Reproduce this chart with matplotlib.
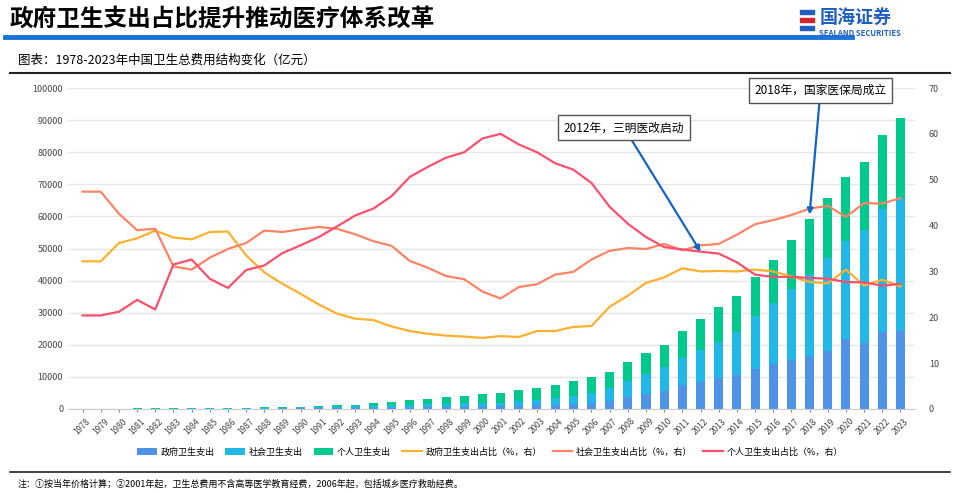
import matplotlib
matplotlib.use("Agg")
import matplotlib.pyplot as plt
import numpy as np

plt.rcParams['font.family'] = ['Noto Sans CJK SC', 'DejaVu Sans']

years = list(range(1978, 2024))
gov = [35,41,52,60,69,78,89,108,122,127,145,168,187,204,229,272,342,387,462,524,590,641,710,801,909,1117,1294,1553,1779,2582,3594,4816,5732,7464,8432,9546,10580,12475,13910,15206,16399,18017,21942,20676,24041,24148]
social = [52,60,61,62,70,64,74,92,110,137,190,237,293,354,431,525,645,767,876,984,1067,1145,1172,1211,1539,1789,2225,2586,3211,3894,5066,6154,7197,8416,10031,11394,13438,16507,19097,22259,25811,29151,30274,34964,38346,41677]
personal = [23,25,30,38,38,65,79,79,84,115,153,210,267,335,437,581,774,1001,1371,1689,2022,2262,2705,3014,3342,3678,4071,4521,4854,5098,5875,6572,7051,8466,9656,10729,11295,11993,13338,15134,16912,18673,19959,21205,22941,24751]
gov_pct = [32.2,32.2,36.2,37.2,38.9,37.4,37.0,38.6,38.7,33.5,29.8,27.3,25.1,22.8,20.8,19.7,19.4,18.0,17.0,16.4,16.0,15.8,15.5,15.9,15.7,17.0,17.0,17.9,18.1,22.3,24.7,27.5,28.7,30.7,30.0,30.1,30.0,30.4,30.0,28.9,27.7,27.4,30.4,26.9,28.2,26.7]
social_pct = [47.4,47.4,42.6,39.0,39.3,31.1,30.4,33.0,34.9,36.2,38.9,38.6,39.2,39.7,39.3,38.1,36.6,35.6,32.3,30.8,29.0,28.3,25.6,24.1,26.6,27.2,29.3,29.9,32.6,34.5,35.1,34.9,36.0,34.6,35.7,36.0,38.0,40.3,41.2,42.3,43.7,44.3,41.9,44.9,44.8,46.0]
personal_pct = [20.4,20.4,21.2,23.8,21.7,31.5,32.6,28.4,26.4,30.3,31.3,34.0,35.7,37.5,39.8,42.2,43.7,46.4,50.6,52.8,54.8,56.0,59.0,60.0,57.7,56.0,53.6,52.2,49.3,44.1,40.4,37.5,35.3,34.8,34.3,33.9,32.0,29.3,28.8,28.8,28.6,28.4,27.7,27.6,26.9,27.3]

c_gov, c_soc, c_per = '#4f93e6', '#21b7e6', '#00c98d'
c_gp, c_sp, c_pp = '#fdb02e', '#fb8466', '#fb4f6e'

fig = plt.figure(figsize=(9.6, 4.93), dpi=100)
W, H = 960, 493
def fx(px): return px / W
def fy(py): return 1 - py / H

# header
fig.text(fx(10), fy(19), '政府卫生支出占比提升推动医疗体系改革', fontsize=17, fontweight='bold', va='center', ha='left')
fig.add_artist(plt.Line2D([fx(5), fx(852)], [fy(37), fy(37)], color='#1a73d9', lw=3.5))
fig.text(fx(820), fy(17), '国海证券', fontsize=13, fontweight='bold', color='#1f5fbf', va='center')
fig.text(fx(819), fy(33), 'SEALAND SECURITIES', fontsize=5.5, fontweight='bold', color='#1f5fbf', va='center')
for i, c in enumerate(['#1f5fbf', '#d8232a', '#1f5fbf']):
    fig.add_artist(plt.Rectangle((fx(800), fy(14 + i * 8)), fx(14), 4 / H, color=c, transform=fig.transFigure))
fig.text(fx(18), fy(60), '图表：1978-2023年中国卫生总费用结构变化（亿元）', fontsize=9, va='center')
fig.add_artist(plt.Line2D([fx(10), fx(950)], [fy(73), fy(73)], color='#222222', lw=1.5))
fig.add_artist(plt.Line2D([fx(10), fx(950)], [fy(472), fy(472)], color='#222222', lw=1.2))
fig.text(fx(18), fy(484), '注：①按当年价格计算；②2001年起，卫生总费用不含高等医学教育经费，2006年起，包括城乡医疗救助经费。', fontsize=6.5, va='center')

ax = fig.add_axes([fx(68), fy(409), fx(915 - 68), (409 - 88) / H])
x = np.arange(len(years))
ax.bar(x, gov, 0.5, color=c_gov, label='政府卫生支出')
ax.bar(x, social, 0.5, bottom=gov, color=c_soc, label='社会卫生支出')
ax.bar(x, personal, 0.5, bottom=np.array(gov) + np.array(social), color=c_per, label='个人卫生支出')
ax.set_ylim(0, 100000)
ax.set_yticks(range(0, 100001, 10000))
ax.set_xlim(-0.8, len(years) - 0.2)
ax.set_xticks(x)
ax.set_xticklabels([str(y) for y in years], rotation=45, fontsize=6, color='#444444')
ax.tick_params(axis='y', labelsize=6.5, colors='#444444', length=0)
ax.tick_params(axis='x', length=2, colors='#888888', labelcolor='#444444')
ax.yaxis.grid(True, color='#e6e6e6', lw=1)
ax.set_axisbelow(True)
for s in ax.spines.values():
    s.set_visible(False)
ax.spines['bottom'].set_visible(True)
ax.spines['bottom'].set_color('#cccccc')

ax2 = ax.twinx()
ax2.plot(x, gov_pct, color=c_gp, lw=1.6, label='政府卫生支出占比（%，右）')
ax2.plot(x, social_pct, color=c_sp, lw=1.6, label='社会卫生支出占比（%，右）')
ax2.plot(x, personal_pct, color=c_pp, lw=1.6, label='个人卫生支出占比（%，右）')
ax2.set_ylim(0, 70)
ax2.set_yticks(range(0, 71, 10))
ax2.tick_params(axis='y', labelsize=6.5, colors='#444444', length=0, pad=10)
for s in ax2.spines.values():
    s.set_visible(False)

i12 = years.index(2012)
i18 = years.index(2018)
ax2.annotate('2012年，三明医改启动', xy=(x[i12], personal_pct[i12]), xytext=(x[i12] - 4.2, 61.3),
             fontsize=8.5, ha='center', va='center',
             bbox=dict(boxstyle='square,pad=0.5', fc='white', ec='#555555', lw=1),
             arrowprops=dict(arrowstyle='-|>', color='#1565c0', lw=1.6, shrinkA=0, shrinkB=0))
ax2.annotate('2018年，国家医保局成立', xy=(x[i18], social_pct[i18] - 1.3), xytext=(x[i18] + 0.6, 69.5),
             fontsize=8.5, ha='center', va='center',
             bbox=dict(boxstyle='square,pad=0.5', fc='white', ec='#555555', lw=1),
             arrowprops=dict(arrowstyle='-|>', color='#1565c0', lw=1.6, shrinkA=0, shrinkB=0),
             annotation_clip=False)

h1, l1 = ax.get_legend_handles_labels()
h2, l2 = ax2.get_legend_handles_labels()
fig.legend(h1 + h2, l1 + l2, loc='center', bbox_to_anchor=(fx(490), fy(452)), ncol=6, fontsize=6.5,
           frameon=False, handlelength=2.2, columnspacing=1.2, handletextpad=0.4)

fig.savefig('out.png', dpi=100)
